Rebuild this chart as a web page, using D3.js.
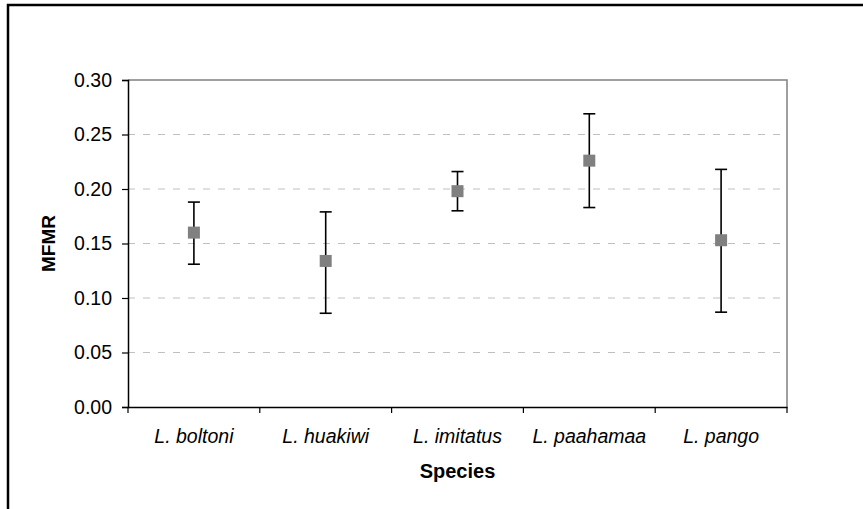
<!DOCTYPE html>
<html>
<head>
<meta charset="utf-8">
<script src="https://cdn.jsdelivr.net/npm/d3@7"></script>
<style>
  html, body { margin: 0; padding: 0; background: #fff; }
  svg { display: block; font-family: Arial, "Liberation Sans", sans-serif; }
</style>
</head>
<body>
<svg id="chart" width="863" height="509"></svg>
<script>
// Mean MFMR per species with lower / upper error limits
const species = ["L. boltoni", "L. huakiwi", "L. imitatus", "L. paahamaa", "L. pango"];
const mfmr    = [0.160, 0.134, 0.198, 0.226, 0.153];
const lower   = [0.131, 0.086, 0.180, 0.183, 0.087];
const upper   = [0.188, 0.179, 0.216, 0.269, 0.218];
const yTicks  = [0.00, 0.05, 0.10, 0.15, 0.20, 0.25, 0.30];

const svg = d3.select("#chart");
const W = 863, H = 509;
const plot = { left: 128, right: 787, top: 80, bottom: 407 };
const FONT = "Arial, 'Liberation Sans', sans-serif";

// outer chart frame (right and bottom edges run past the canvas)
svg.append("rect")
  .attr("x", 8).attr("y", 5)
  .attr("width", W + 20).attr("height", H + 20)
  .attr("fill", "#fff").attr("stroke", "#000").attr("stroke-width", 2.5);

const x = d3.scaleBand().domain(species).range([plot.left, plot.right]).padding(0);
const y = d3.scaleLinear().domain([0, 0.30]).range([plot.bottom, plot.top]);

// dashed horizontal gridlines
svg.append("g")
  .selectAll("line")
  .data(yTicks.filter(t => t > 0 && t < 0.30))
  .join("line")
  .attr("x1", plot.left).attr("x2", plot.right)
  .attr("y1", d => y(d)).attr("y2", d => y(d))
  .attr("stroke", "#c0c0c0").attr("stroke-width", 1)
  .attr("stroke-dasharray", "7,8");

// grey top and right edges of the plot area
svg.append("path")
  .attr("d", `M${plot.left},${y(0.30)}H${plot.right}V${plot.bottom}`)
  .attr("fill", "none").attr("stroke", "#808080").attr("stroke-width", 1.5);

// y axis
const yAxis = d3.axisLeft(y).tickValues(yTicks).tickFormat(d3.format(".2f")).tickSize(6).tickPadding(10);
const gy = svg.append("g").attr("transform", `translate(${plot.left},0)`).call(yAxis);
gy.select(".domain").attr("stroke", "#000").attr("stroke-width", 1.5);
gy.selectAll(".tick line").attr("stroke", "#000").attr("stroke-width", 1.2);
gy.selectAll(".tick text").attr("font-size", 19.5).attr("fill", "#000").attr("font-family", FONT);

// x axis: ticks sit on the category boundaries
const xAxis = d3.axisBottom(x).tickSize(0).tickPadding(22);
const gx = svg.append("g").attr("transform", `translate(0,${plot.bottom})`).call(xAxis);
gx.select(".domain").attr("stroke", "#000").attr("stroke-width", 1.5);
gx.selectAll(".tick text").attr("font-size", 19.5).attr("font-style", "italic").attr("fill", "#000")
  .attr("font-family", FONT)
  .attr("dy", "0.71em");
const bounds = species.map(s => x(s)).concat([x(species[species.length - 1]) + x.bandwidth()]);
svg.append("g").selectAll("line").data(bounds).join("line")
  .attr("x1", d => d).attr("x2", d => d)
  .attr("y1", plot.bottom).attr("y2", plot.bottom + 6)
  .attr("stroke", "#000").attr("stroke-width", 1.2);

// error bars
const cx = i => x(species[i]) + x.bandwidth() / 2;
const capW = 6;
const eb = svg.append("g").attr("stroke", "#000").attr("stroke-width", 1.6);
species.forEach((s, i) => {
  eb.append("line").attr("x1", cx(i)).attr("x2", cx(i)).attr("y1", y(lower[i])).attr("y2", y(upper[i]));
  eb.append("line").attr("x1", cx(i) - capW).attr("x2", cx(i) + capW).attr("y1", y(upper[i])).attr("y2", y(upper[i]));
  eb.append("line").attr("x1", cx(i) - capW).attr("x2", cx(i) + capW).attr("y1", y(lower[i])).attr("y2", y(lower[i]));
});

// square markers for the means
const ms = 12;
svg.append("g").selectAll("rect").data(mfmr).join("rect")
  .attr("x", (d, i) => cx(i) - ms / 2)
  .attr("y", d => y(d) - ms / 2)
  .attr("width", ms).attr("height", ms)
  .attr("fill", "#808080");

// axis titles
svg.append("text")
  .attr("x", (plot.left + plot.right) / 2).attr("y", 478)
  .attr("text-anchor", "middle").attr("font-size", 20).attr("font-weight", "bold")
  .attr("font-family", FONT)
  .text("Species");
svg.append("text")
  .attr("transform", `translate(55,${(plot.top + plot.bottom) / 2}) rotate(-90)`)
  .attr("text-anchor", "middle").attr("font-size", 19).attr("font-weight", "bold")
  .attr("font-family", FONT)
  .text("MFMR");
</script>
</body>
</html>
